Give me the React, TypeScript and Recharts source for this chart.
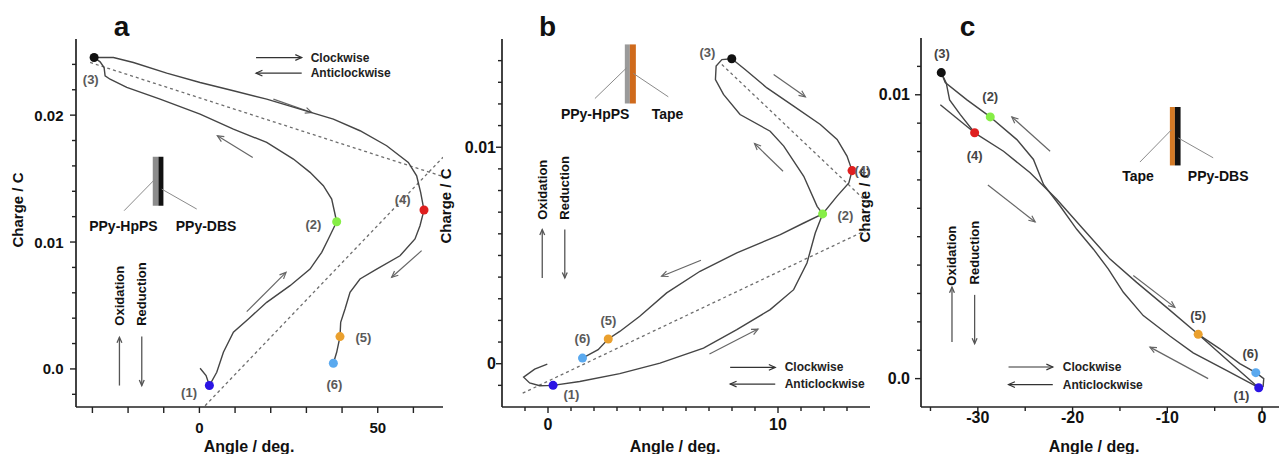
import React from "react";
import {
  ScatterChart,
  Scatter,
  XAxis,
  YAxis,
  ZAxis,
  Cell,
  ReferenceLine,
  ReferenceDot,
  ReferenceArea,
} from "recharts";

type P = [number, number];
type Seg = [P, P];

const FONT = '"Liberation Sans", Arial, Helvetica, sans-serif';
const PHASE_NAMES = ["(1)", "(2)", "(3)", "(4)", "(5)", "(6)"];
const PHASE_COLORS = ["#2b14e4", "#86ee46", "#111111", "#df1f1f", "#eaa02e", "#5aa9ef"];

// ---------- panel a (PPy-HpPS / PPy-DBS)
const A_X_TICKS = [-30, -20, -10, 0, 10, 20, 30, 40, 50, 60];
const A_X_LABELS: [number, string][] = [[0, "0"], [50, "50"]];
const A_Y_TICKS = [-0.002, 0, 0.002, 0.004, 0.006, 0.008, 0.01, 0.012, 0.014, 0.016, 0.018, 0.02, 0.022, 0.024];
const A_Y_LABELS: [number, string][] = [[0, "0.0"], [0.01, "0.01"], [0.02, "0.02"]];

const A_PATH_12: P[] = [
  [0.19, 0.00005], [1.87, -0.00052], [2.8, -0.00131], [4.86, -0.00026], [6.73, 0.00131],
  [9.53, 0.00289], [13.73, 0.00394], [18.87, 0.00525], [25.41, 0.00656], [31.02, 0.00787],
  [34.29, 0.00919], [36.15, 0.01024], [38.49, 0.0116],
];
const A_PATH_23: P[] = [
  [38.49, 0.0116], [37.09, 0.01339], [34.75, 0.01444], [31.02, 0.01549], [26.35, 0.01654],
  [18.87, 0.01785], [9.53, 0.0189], [0.19, 0.02008], [-11.02, 0.02126], [-20.36, 0.02218],
  [-25.04, 0.02283], [-26.44, 0.0231], [-26.72, 0.02375], [-27.84, 0.0242], [-29.52, 0.02454],
];
const A_PATH_34: P[] = [
  [-29.52, 0.02454], [-24.1, 0.02454], [-18.5, 0.02415], [-9.16, 0.02331], [0.19, 0.02257],
  [9.53, 0.02192], [18.87, 0.02126], [28.21, 0.02047], [37.56, 0.01969], [45.03, 0.01877],
  [52.5, 0.01759], [58.58, 0.01627], [60.91, 0.01522], [62.03, 0.01391], [62.97, 0.01252],
];
const A_PATH_456: P[] = [
  [62.97, 0.01252], [61.85, 0.01129], [60.45, 0.01024], [56.24, 0.00892], [49.7, 0.00787],
  [45.03, 0.00709], [42.23, 0.00604], [40.83, 0.00472], [39.61, 0.00367], [39.42, 0.00255],
  [38.49, 0.00131], [37.56, 0.00045],
];
const A_PHASES: P[] = [[2.8, -0.00131], [38.49, 0.0116], [-29.52, 0.02454], [62.97, 0.01252], [39.42, 0.00255], [37.56, 0.00045]];
const A_PHASE_TEXT: P[] = [[-2.9, -0.00184], [31.95, 0.01136], [-30.46, 0.02283], [56.99, 0.01339], [45.96, 0.00244], [37.84, -0.00123]];
const A_GUIDES: Seg[] = [
  [[-30.64, 0.02415], [68.3, 0.01516]],
  [[1.6, -0.0029], [68.3, 0.01668]],
];
const A_ARROWS: Seg[] = [
  [[20.74, 0.02126], [31.48, 0.02021]],
  [[14.95, 0.01667], [5.04, 0.01837]],
  [[13.27, 0.00451], [24.29, 0.00761]],
  [[62.31, 0.00932], [53.9, 0.00722]],
];

// ---------- panel b (PPy-HpPS / Tape)
const B_X_TICKS = [-1, 0, 1, 2, 3, 4, 5, 6, 7, 8, 9, 10, 11, 12, 13];
const B_X_LABELS: [number, string][] = [[0, "0"], [10, "10"]];
const B_Y_TICKS = [-0.001, 0, 0.001, 0.002, 0.003, 0.004, 0.005, 0.006, 0.007, 0.008, 0.009, 0.01, 0.011, 0.012, 0.013, 0.014];
const B_Y_LABELS: [number, string][] = [[0, "0"], [0.01, "0.01"]];

const B_PATH_12: P[] = [
  [-0.03, -0.00002], [-0.58, -0.00025], [-1.06, -0.00062], [-0.8, -0.00089], [-0.36, -0.00102],
  [0.22, -0.001], [1.38, -0.00082], [3.12, -0.00046], [4.87, 0.00003], [6.76, 0.00072],
  [8.21, 0.00157], [9.66, 0.0025], [10.68, 0.00342], [11.26, 0.00465], [11.62, 0.00604],
  [11.94, 0.00692],
];
const B_PATH_23: P[] = [
  [11.94, 0.00692], [11.7, 0.00727], [11.12, 0.00866], [10.25, 0.01005], [9.66, 0.01074],
  [8.35, 0.01151], [7.63, 0.01244], [7.28, 0.01313], [7.31, 0.01375], [7.56, 0.01405],
  [7.99, 0.01409],
];
const B_PATH_34: P[] = [
  [7.99, 0.01409], [8.57, 0.01359], [9.52, 0.01274], [10.68, 0.0119], [11.84, 0.01105],
  [12.57, 0.01036], [13.0, 0.00959], [13.22, 0.00892],
];
const B_PATH_456: P[] = [
  [13.22, 0.00892], [13.08, 0.00835], [12.57, 0.00774], [11.94, 0.00692], [11.12, 0.0065],
  [10.1, 0.00596], [8.21, 0.00512], [6.61, 0.00427], [5.16, 0.00327], [3.99, 0.00219],
  [3.12, 0.00149], [2.62, 0.00114], [2.18, 0.00065], [1.5, 0.00026],
];
const B_PHASES: P[] = [[0.22, -0.001], [11.94, 0.00692], [7.99, 0.01409], [13.22, 0.00892], [2.62, 0.00114], [1.5, 0.00026]];
const B_PHASE_TEXT: P[] = [[1.02, -0.00143], [12.93, 0.00684], [6.93, 0.01439], [13.67, 0.00892], [2.63, 0.002], [1.5, 0.00116]];
const B_GUIDES: Seg[] = [
  [[-1.1, -0.00136], [14, 0.00625]],
  [[7.56, 0.01382], [14, 0.00733]],
];
const B_ARROWS: Seg[] = [
  [[9.81, 0.01336], [11.19, 0.01233]],
  [[10.22, 0.00889], [8.98, 0.01017]],
  [[6.65, 0.00478], [4.94, 0.00404]],
  [[7.02, 0.00045], [9.13, 0.0016]],
];

// ---------- panel c (Tape / PPy-DBS)
const C_X_TICKS = [-35, -30, -25, -20, -15, -10, -5, 0];
const C_X_LABELS: [number, string][] = [[-30, "-30"], [-20, "-20"], [-10, "-10"], [0, "0"]];
const C_Y_TICKS = [0, 0.001, 0.002, 0.003, 0.004, 0.005, 0.006, 0.007, 0.008, 0.009, 0.01, 0.011];
const C_Y_LABELS: [number, string][] = [[0, "0.0"], [0.01, "0.01"]];

const C_PATH_12: P[] = [
  [-0.35, -0.00032], [-3.76, 0.00029], [-7.27, 0.00091], [-9.73, 0.0015], [-12.54, 0.00222],
  [-14.64, 0.00304], [-16.22, 0.00386], [-17.8, 0.00456], [-19.56, 0.00526], [-21.32, 0.00608],
  [-23.07, 0.00684], [-24.13, 0.00772], [-25.88, 0.00842], [-28.69, 0.00922],
];
const C_PATH_23: P[] = [[-28.69, 0.00922], [-31.15, 0.00982], [-33.44, 0.01043], [-33.86, 0.01078]];
const C_PATH_34: P[] = [[-33.86, 0.01078], [-33.33, 0.01041], [-32.98, 0.00982], [-31.85, 0.0093], [-30.34, 0.00866]];
const C_PATH_START: P[] = [[-33.96, 0.00965], [-30.34, 0.00866]];
const C_PATH_45: P[] = [
  [-30.34, 0.00866], [-27.29, 0.00801], [-24.48, 0.00725], [-21.67, 0.00632], [-18.86, 0.00526],
  [-16.05, 0.00421], [-13.24, 0.00339], [-10.08, 0.00251], [-6.74, 0.00156],
];
const C_PATH_56: P[] = [[-6.74, 0.00156], [-4.45, 0.00105], [-2.35, 0.00053], [-0.66, 0.00021], [0.18, 0.0], [0.11, -0.00029]];
const C_PATH_51: P[] = [[-6.74, 0.00156], [-3.41, 0.00058], [-0.35, -0.00032]];
const C_PHASES: P[] = [[-0.35, -0.00032], [-28.69, 0.00922], [-33.86, 0.01078], [-30.34, 0.00866], [-6.74, 0.00156], [-0.66, 0.00021]];
const C_PHASE_TEXT: P[] = [[-2.17, -0.00061], [-28.69, 0.00994], [-33.79, 0.01144], [-30.34, 0.00786], [-6.74, 0.00222], [-1.23, 0.00088]];
const C_ARROWS: Seg[] = [
  [[-22.37, 0.00801], [-26.41, 0.00922]],
  [[-28.94, 0.00682], [-23.95, 0.00552]],
  [[-13.59, 0.00363], [-9.2, 0.00251]],
  [[-5.69, 0.0], [-11.83, 0.00111]],
];

interface Bar { x1: number; x2: number; y1: number; y2: number; color: string }
interface Spec {
  left: number;
  width: number;
  top: number;
  yAxisWidth: number;
  xDomain: [number, number];
  yDomain: [number, number];
  xTicks: number[];
  yTicks: number[];
  xLabels: [number, string][];
  yLabels: [number, string][];
  xLabelDy: number;
  yLabelDx: number;
  xMinorLen: number;
  tickFont: number;
  loops: P[][];
  phases: P[];
  phaseText: P[];
  phaseFill: string;
  guides: Seg[];
  arrows: Seg[];
  legend: { cw: Seg; acw: Seg; textX: number };
  redox: { ox: P; red: P; up: Seg; down: Seg };
  bars: Bar[];
  pointers: Seg[];
  insetText: { at: P; text: string }[];
}

const PANELS: Spec[] = [
  {
    left: 0, width: 443, top: 39, yAxisWidth: 76,
    xDomain: [-34.6, 68.3], yDomain: [-0.003, 0.026],
    xTicks: A_X_TICKS, yTicks: A_Y_TICKS, xLabels: A_X_LABELS, yLabels: A_Y_LABELS,
    xLabelDy: 20, yLabelDx: 12.5, xMinorLen: 6, tickFont: 15,
    loops: [A_PATH_12, A_PATH_23, A_PATH_34, A_PATH_456],
    phases: A_PHASES, phaseText: A_PHASE_TEXT, phaseFill: "#5a5a5a",
    guides: A_GUIDES, arrows: A_ARROWS,
    legend: { cw: [[15.88, 0.02454], [28.68, 0.02454]], acw: [[28.68, 0.02331], [15.88, 0.02331]], textX: 31.2 },
    redox: { ox: [-22.42, 0.00577], red: [-16.16, 0.0059], up: [[-22.42, -0.00131], [-22.42, 0.00249]], down: [[-16.16, 0.00255], [-16.16, -0.00131]] },
    bars: [
      { x1: -13.08, x2: -11.49, y1: 0.01286, y2: 0.01672, color: "#8c8c8c" },
      { x1: -11.49, x2: -10.09, y1: 0.01286, y2: 0.01672, color: "#111" },
    ],
    pointers: [[[-21.11, 0.01247], [-12.43, 0.01496]], [[-0.75, 0.0126], [-10.56, 0.01417]]],
    insetText: [{ at: [-21.3, 0.01129], text: "PPy-HpPS" }, { at: [1.87, 0.01129], text: "PPy-DBS" }],
  },
  {
    left: 430, width: 440, top: 39, yAxisWidth: 72,
    xDomain: [-2, 14], yDomain: [-0.002, 0.015],
    xTicks: B_X_TICKS, yTicks: B_Y_TICKS, xLabels: B_X_LABELS, yLabels: B_Y_LABELS,
    xLabelDy: 17, yLabelDx: 6, xMinorLen: 4, tickFont: 16,
    loops: [B_PATH_12, B_PATH_23, B_PATH_34, B_PATH_456],
    phases: B_PHASES, phaseText: B_PHASE_TEXT, phaseFill: "#5a5a5a",
    guides: B_GUIDES, arrows: B_ARROWS,
    legend: { cw: [[7.92, -0.00017], [9.88, -0.00017]], acw: [[9.88, -0.00094], [7.92, -0.00094]], textX: 10.29 },
    redox: { ox: [-0.25, 0.00804], red: [0.73, 0.00812], up: [[-0.25, 0.00396], [-0.25, 0.0062]], down: [[0.73, 0.0062], [0.73, 0.00396]] },
    bars: [
      { x1: 3.34, x2: 3.56, y1: 0.01202, y2: 0.01475, color: "#9a9a9a" },
      { x1: 3.56, x2: 3.82, y1: 0.01202, y2: 0.01475, color: "#cf6a1c" },
    ],
    pointers: [[[2.04, 0.01225], [3.42, 0.01367]], [[5.23, 0.01233], [3.71, 0.01341]]],
    insetText: [{ at: [2.05, 0.01154], text: "PPy-HpPS" }, { at: [5.2, 0.01154], text: "Tape" }],
  },
  {
    left: 850, width: 431, top: 38, yAxisWidth: 71,
    xDomain: [-36, 2], yDomain: [-0.001, 0.012],
    xTicks: C_X_TICKS, yTicks: C_Y_TICKS, xLabels: C_X_LABELS, yLabels: C_Y_LABELS,
    xLabelDy: 10.5, yLabelDx: 11, xMinorLen: 4, tickFont: 16,
    loops: [C_PATH_12, C_PATH_23, C_PATH_34, C_PATH_START, C_PATH_45, C_PATH_56, C_PATH_51],
    phases: C_PHASES, phaseText: C_PHASE_TEXT, phaseFill: "#444",
    guides: [], arrows: C_ARROWS,
    legend: { cw: [[-26.76, 0.00041], [-22.09, 0.00041]], acw: [[-22.09, -0.00021], [-26.76, -0.00021]], textX: -21.04 },
    redox: { ox: [-32.73, 0.00433], red: [-30.34, 0.00444], up: [[-32.73, 0.00129], [-32.73, 0.00322]], down: [[-30.34, 0.00295], [-30.34, 0.00123]] },
    bars: [
      { x1: -9.73, x2: -9.2, y1: 0.00751, y2: 0.00957, color: "#d47a26" },
      { x1: -9.2, x2: -8.6, y1: 0.00751, y2: 0.00957, color: "#111" },
    ],
    pointers: [[[-12.89, 0.00763], [-9.55, 0.00877]], [[-5.16, 0.00778], [-8.85, 0.00848]]],
    insetText: [{ at: [-13.1, 0.00713], text: "Tape" }, { at: [-4.63, 0.00713], text: "PPy-DBS" }],
  },
];

const TITLES = [
  { letter: "a", lx: 121.5, yTitle: [17.5, 210], xTitle: [249, 446] },
  { letter: "b", lx: 547.5, yTitle: [445, 206], xTitle: [675, 446] },
  { letter: "c", lx: 967.5, yTitle: [864, 205], xTitle: [1094, 446] },
];

const toXY = (pts: P[]) => pts.map(([x, y]) => ({ x, y }));
const seg = ([a, b]: Seg) => [{ x: a[0], y: a[1] }, { x: b[0], y: b[1] }];

function arrowShape(color: string, width: number, head: number) {
  return (p: any) => {
    const { x1, y1, x2, y2 } = p;
    const ang = Math.atan2(y2 - y1, x2 - x1);
    const ha = 0.42;
    const hx1 = x2 - head * Math.cos(ang - ha);
    const hy1 = y2 - head * Math.sin(ang - ha);
    const hx2 = x2 - head * Math.cos(ang + ha);
    const hy2 = y2 - head * Math.sin(ang + ha);
    return (
      <g>
        <line x1={x1} y1={y1} x2={x2} y2={y2} stroke={color} strokeWidth={width} />
        <polyline points={`${hx1},${hy1} ${x2},${y2} ${hx2},${hy2}`} fill="none" stroke={color} strokeWidth={width} />
      </g>
    );
  };
}

function textShape(text: string, size: number, fill: string, anchor = "middle", rotate = false) {
  return (p: any) => (
    <text
      x={p.cx}
      y={p.cy}
      textAnchor={anchor}
      dominantBaseline="central"
      fontFamily={FONT}
      fontWeight="bold"
      fontSize={size}
      fill={fill}
      transform={rotate ? `rotate(-90 ${p.cx} ${p.cy})` : undefined}
    >
      {text}
    </text>
  );
}

function Panel({ s }: { s: Spec }) {
  const findLabel = (list: [number, string][], v: number) =>
    list.find(([t]) => Math.abs(t - v) < 1e-9);

  const xTick = (p: any) => {
    const lab = findLabel(s.xLabels, p.payload.value);
    const len = lab ? 6 : s.xMinorLen;
    return (
      <g>
        <line x1={p.x} x2={p.x} y1={p.y} y2={p.y + len} stroke="#222" strokeWidth={1.4} />
        {lab && (
          <text x={p.x} y={p.y + s.xLabelDy} textAnchor="middle" dominantBaseline="central"
            fontFamily={FONT} fontWeight="bold" fontSize={s.tickFont} fill="#111">
            {lab[1]}
          </text>
        )}
      </g>
    );
  };

  const yTick = (p: any) => {
    const lab = findLabel(s.yLabels, p.payload.value);
    const len = lab ? 6 : 4;
    return (
      <g>
        <line x1={p.x - len} x2={p.x} y1={p.y} y2={p.y} stroke="#222" strokeWidth={1.4} />
        {lab && (
          <text x={p.x - s.yLabelDx} y={p.y} textAnchor="end" dominantBaseline="central"
            fontFamily={FONT} fontWeight="bold" fontSize={s.tickFont} fill="#111">
            {lab[1]}
          </text>
        )}
      </g>
    );
  };

  const curveArrow = arrowShape("#666", 1.2, 7);
  const legendArrow = arrowShape("#333", 1.2, 7);
  const redoxArrow = arrowShape("#555", 1.3, 6);

  return (
    <div style={{ position: "absolute", left: s.left, top: 0 }}>
      <ScatterChart width={s.width} height={454} margin={{ top: s.top, right: 0, left: 0, bottom: 0 }}>
        <XAxis
          type="number" dataKey="x" domain={s.xDomain} ticks={s.xTicks} interval={0}
          allowDataOverflow height={47} tickSize={0} tickMargin={0} tickLine={false}
          axisLine={{ stroke: "#222", strokeWidth: 1.7 }} tick={xTick}
        />
        <YAxis
          type="number" dataKey="y" domain={s.yDomain} ticks={s.yTicks} interval={0}
          allowDataOverflow width={s.yAxisWidth} tickSize={0} tickMargin={0} tickLine={false}
          axisLine={{ stroke: "#222", strokeWidth: 1.7 }} tick={yTick}
        />
        <ZAxis range={[84, 84]} />

        {s.bars.map((b, i) => (
          <ReferenceArea key={`bar${i}`} x1={b.x1} x2={b.x2} y1={b.y1} y2={b.y2}
            fill={b.color} fillOpacity={1} stroke="none" ifOverflow="visible" />
        ))}
        {s.pointers.map((g, i) => (
          <ReferenceLine key={`ptr${i}`} segment={seg(g)} stroke="#8a8a8a" strokeWidth={1} ifOverflow="visible" />
        ))}
        {s.insetText.map((t, i) => (
          <ReferenceDot key={`it${i}`} x={t.at[0]} y={t.at[1]} ifOverflow="visible"
            shape={textShape(t.text, 14, "#111")} />
        ))}

        {s.guides.map((g, i) => (
          <ReferenceLine key={`guide${i}`} segment={seg(g)} stroke="#6e6e6e" strokeWidth={1.3}
            strokeDasharray="3 3" ifOverflow="visible" />
        ))}

        {s.loops.map((l, i) => (
          <Scatter key={`loop${i}`} data={toXY(l)} line={{ stroke: "#454545", strokeWidth: 1.4 }}
            shape={() => <g />} isAnimationActive={false} />
        ))}

        <Scatter data={toXY(s.phases)} isAnimationActive={false}>
          {s.phases.map((_, i) => (
            <Cell key={`ph${i}`} fill={PHASE_COLORS[i]} />
          ))}
        </Scatter>

        {s.phaseText.map((t, i) => (
          <ReferenceDot key={`pt${i}`} x={t[0]} y={t[1]} ifOverflow="visible"
            shape={textShape(PHASE_NAMES[i], 13, s.phaseFill)} />
        ))}

        {s.arrows.map((g, i) => (
          <ReferenceLine key={`arr${i}`} segment={seg(g)} ifOverflow="visible" shape={curveArrow} />
        ))}

        <ReferenceLine segment={seg(s.legend.cw)} ifOverflow="visible" shape={legendArrow} />
        <ReferenceLine segment={seg(s.legend.acw)} ifOverflow="visible" shape={legendArrow} />
        <ReferenceDot x={s.legend.textX} y={s.legend.cw[0][1]} ifOverflow="visible"
          shape={textShape("Clockwise", 12, "#222", "start")} />
        <ReferenceDot x={s.legend.textX} y={s.legend.acw[0][1]} ifOverflow="visible"
          shape={textShape("Anticlockwise", 12, "#222", "start")} />

        <ReferenceLine segment={seg(s.redox.up)} ifOverflow="visible" shape={redoxArrow} />
        <ReferenceLine segment={seg(s.redox.down)} ifOverflow="visible" shape={redoxArrow} />
        <ReferenceDot x={s.redox.ox[0]} y={s.redox.ox[1]} ifOverflow="visible"
          shape={textShape("Oxidation", 13, "#111", "middle", true)} />
        <ReferenceDot x={s.redox.red[0]} y={s.redox.red[1]} ifOverflow="visible"
          shape={textShape("Reduction", 13, "#111", "middle", true)} />
      </ScatterChart>
    </div>
  );
}

export default function App() {
  return (
    <div
      style={{
        position: "absolute",
        left: 0,
        top: 0,
        width: 1279,
        height: 454,
        overflow: "hidden",
        background: "#fff",
      }}
    >
      <svg width={1279} height={454} style={{ position: "absolute", left: 0, top: 0 }}>
        {TITLES.map((t) => (
          <g key={t.letter} fontFamily={FONT} fontWeight="bold" fill="#111">
            <text x={t.lx} y={36} textAnchor="middle" fontSize={28}>{t.letter}</text>
            <text x={t.xTitle[0]} y={t.xTitle[1]} textAnchor="middle" dominantBaseline="central" fontSize={16}>
              Angle / deg.
            </text>
            <text x={t.yTitle[0]} y={t.yTitle[1]} textAnchor="middle" dominantBaseline="central" fontSize={15}
              transform={`rotate(-90 ${t.yTitle[0]} ${t.yTitle[1]})`}>
              Charge / C
            </text>
          </g>
        ))}
      </svg>
      <Panel s={PANELS[2]} />
      <Panel s={PANELS[1]} />
      <Panel s={PANELS[0]} />
    </div>
  );
}
